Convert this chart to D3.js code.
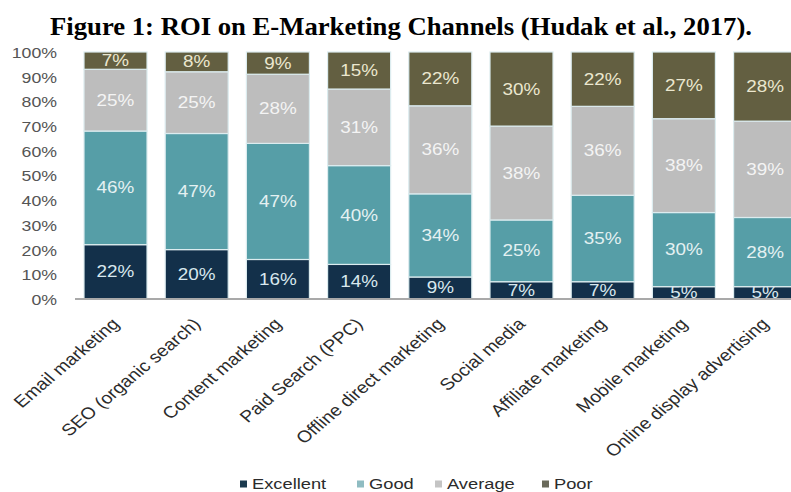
<!DOCTYPE html>
<html>
<head>
<meta charset="utf-8">
<script src="https://cdn.jsdelivr.net/npm/d3@7/dist/d3.min.js"></script>
<style>
  html, body { margin: 0; padding: 0; background: #ffffff; }
  svg { display: block; }
</style>
</head>
<body>
<svg id="chart" width="791" height="492"></svg>
<script>
// ROI ratings per e-marketing channel (share of respondents, %)
const channels = [
  "Email marketing", "SEO (organic search)", "Content marketing",
  "Paid Search (PPC)", "Offline direct marketing", "Social media",
  "Affiliate marketing", "Mobile marketing", "Online display advertising"
];
const ratings = ["Excellent", "Good", "Average", "Poor"];
const excellent = [22, 20, 16, 14, 9, 7, 7, 5, 5];
const good      = [46, 47, 47, 40, 34, 25, 35, 30, 28];
const average   = [25, 25, 28, 31, 36, 38, 36, 38, 39];
const poor      = [7, 8, 9, 15, 22, 30, 22, 27, 28];
const yTicks = [0, 0.1, 0.2, 0.3, 0.4, 0.5, 0.6, 0.7, 0.8, 0.9, 1];

const colors = {
  Excellent: "#13304a",
  Good: "#569ea7",
  Average: "#bdbdbd",
  Poor: "#635f41"
};
const legendColors = {
  Excellent: "#1b3a4e",
  Good: "#8fbcc2",
  Average: "#c4c4c4",
  Poor: "#6a6a5a"
};
const labelColors = {
  Excellent: "#d9e8ee",
  Good: "#e4f1f2",
  Average: "#f4f4f4",
  Poor: "#ebe7cf"
};

// the figure's typography is slightly wide; mimic with a horizontal stretch
const SX = 1.18;

const rows = channels.map((c, i) => ({
  channel: c,
  Excellent: excellent[i], Good: good[i], Average: average[i], Poor: poor[i]
}));

const svg = d3.select("#chart");
const font = "'Liberation Sans', Arial, sans-serif";

const x = d3.scaleBand()
  .domain(channels)
  .range([84, 796.6])
  .paddingInner(0.224)
  .paddingOuter(0);

const y = d3.scaleLinear().domain([0, 1]).range([299, 52]);

const series = d3.stack()
  .keys(ratings)
  .offset(d3.stackOffsetExpand)(rows);

// title
svg.append("text")
  .attr("x", 401)
  .attr("y", 35)
  .attr("text-anchor", "middle")
  .attr("font-family", "'Liberation Serif', 'Times New Roman', serif")
  .attr("font-weight", "bold")
  .attr("font-size", 25)
  .attr("fill", "#000")
  .attr("textLength", 702)
  .attr("lengthAdjust", "spacingAndGlyphs")
  .text("Figure 1: ROI on E-Marketing Channels (Hudak et al., 2017).");

// y tick labels
const yAxis = d3.axisLeft(y).tickValues(yTicks).tickFormat(d3.format(".0%")).tickSize(0).tickPadding(0);
const yg = svg.append("g").attr("transform", "translate(57,0)").call(yAxis);
yg.select(".domain").remove();
yg.selectAll("text")
  .attr("font-family", font)
  .attr("font-size", 15)
  .attr("fill", "#555555")
  .attr("x", null).attr("dy", null)
  .attr("dominant-baseline", "central")
  .attr("text-anchor", "end")
  .attr("transform", `scale(${SX},1)`);

// stacked bars
const layers = svg.append("g").selectAll("g")
  .data(series)
  .join("g")
  .attr("fill", d => colors[d.key]);

layers.selectAll("rect")
  .data(d => d.map(v => ({ key: d.key, v })))
  .join("rect")
  .attr("x", d => x(d.v.data.channel))
  .attr("width", x.bandwidth())
  .attr("y", d => y(d.v[1]))
  .attr("height", d => y(d.v[0]) - y(d.v[1]))
  .attr("stroke", "#dcecef")
  .attr("stroke-width", 1.2);

// value labels
const labels = svg.append("g");
series.forEach(s => {
  s.forEach(v => {
    const cx = x(v.data.channel) + x.bandwidth() / 2;
    const cy = (y(v[0]) + y(v[1])) / 2;
    labels.append("text")
      .attr("transform", `translate(${cx},${cy}) scale(${SX},1)`)
      .attr("text-anchor", "middle")
      .attr("dominant-baseline", "central")
      .attr("font-family", font)
      .attr("font-size", 16)
      .attr("fill", labelColors[s.key])
      .text(v.data[s.key] + "%");
  });
});

// x axis baseline
svg.append("line")
  .attr("x1", 75).attr("x2", 791)
  .attr("y1", y(0)).attr("y2", y(0))
  .attr("stroke", "#a9a9a9")
  .attr("stroke-width", 2);

// rotated category labels
const xg = svg.append("g");
channels.forEach(c => {
  const cx = x(c) + x.bandwidth() / 2;
  xg.append("text")
    .attr("transform", `translate(${cx},${321}) scale(${SX},1) rotate(-45)`)
    .attr("text-anchor", "end")
    .attr("dy", "0.35em")
    .attr("font-family", font)
    .attr("font-size", 16.5)
    .attr("fill", "#2b2b2b")
    .text(c);
});

// legend
const legendX = [240, 357, 435, 542];
const legend = svg.append("g");
ratings.forEach((r, i) => {
  const g = legend.append("g").attr("transform", `translate(${legendX[i]},484)`);
  g.append("rect")
    .attr("x", 0).attr("y", -3.5)
    .attr("width", 7).attr("height", 7)
    .attr("fill", legendColors[r]);
  g.append("text")
    .attr("transform", `translate(12,0) scale(${SX},1)`)
    .attr("dominant-baseline", "central")
    .attr("font-family", font)
    .attr("font-size", 15.5)
    .attr("fill", "#2b2b2b")
    .text(r);
});
</script>
</body>
</html>
